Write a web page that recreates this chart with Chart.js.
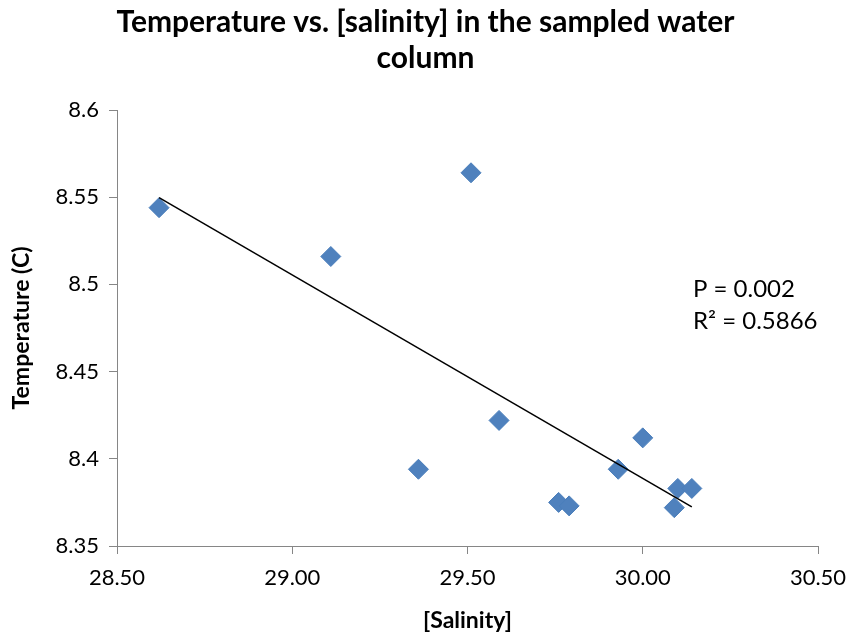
<!DOCTYPE html>
<html>
<head>
<meta charset="utf-8">
<script src="https://cdn.jsdelivr.net/npm/chart.js@4.4.0/dist/chart.umd.min.js"></script>
<style>
  html, body { margin: 0; padding: 0; background: #fff; }
  #wrap { width: 851px; height: 636px; }
</style>
</head>
<body>
<div id="wrap"><canvas id="chart" width="851" height="636"></canvas></div>
<script>
const salinity = [28.62, 29.11, 29.51, 29.36, 29.59, 29.76, 29.79, 29.93, 30.00, 30.10, 30.14, 30.09];
const temperature = [8.544, 8.516, 8.564, 8.394, 8.422, 8.375, 8.373, 8.394, 8.412, 8.383, 8.383, 8.372];
const xTickLabels = ['28.50', '29.00', '29.50', '30.00', '30.50'];
const yTickLabels = ['8.35', '8.4', '8.45', '8.5', '8.55', '8.6'];
const statsText = ['P = 0.002', 'R\u00B2 = 0.5866'];

const FONT = "Lato, 'Noto Sans', sans-serif";
const AXIS = '#868686';

// least squares fit for the trendline
const n = salinity.length;
const mx = salinity.reduce((a, b) => a + b, 0) / n;
const my = temperature.reduce((a, b) => a + b, 0) / n;
let sxy = 0, sxx = 0;
for (let i = 0; i < n; i++) {
    sxy += (salinity[i] - mx) * (temperature[i] - my);
    sxx += (salinity[i] - mx) ** 2;
}
const slope = sxy / sxx;
const xMin = Math.min(...salinity);
const xMax = Math.max(...salinity);
const trend = [xMin, xMax].map(x => ({ x: x, y: my + slope * (x - mx) }));

const points = salinity.map((x, i) => ({ x: x, y: temperature[i] }));

const statsLabel = {
    id: 'statsLabel',
    afterDraw(chart) {
        const ctx = chart.ctx;
        const area = chart.chartArea;
        ctx.save();
        ctx.fillStyle = '#000';
        ctx.font = '24px ' + FONT;
        ctx.textBaseline = 'middle';
        ctx.fillText(statsText[0], area.left + 576, 289);
        ctx.fillText(statsText[1], area.left + 576, 321);
        ctx.restore();
    }
};

new Chart(document.getElementById('chart').getContext('2d'), {
    type: 'scatter',
    data: {
        datasets: [{
            label: 'Trend',
            data: trend,
            showLine: true,
            borderColor: '#000',
            borderWidth: 1.5,
            pointRadius: 0,
            order: 0
        }, {
            label: 'Temperature',
            data: points,
            pointStyle: 'rectRot',
            pointRadius: 10,
            backgroundColor: '#4F81BD',
            borderColor: '#4A7EBB',
            borderWidth: 1,
            order: 1
        }]
    },
    options: {
        responsive: false,
        animation: false,
        layout: { padding: 0 },
        plugins: {
            legend: { display: false },
            tooltip: { enabled: false },
            title: {
                display: true,
                text: ['Temperature vs. [salinity] in the sampled water', 'column'],
                color: '#000',
                font: { family: FONT, size: 30, weight: 'bold', lineHeight: 1.2 },
                padding: { top: 4, bottom: 34 }
            }
        },
        scales: {
            x: {
                type: 'linear',
                min: 28.5,
                max: 30.5,
                afterFit(scale) {
                    scale.height = 90;
                    scale.paddingLeft = 0;
                    scale.paddingRight = 33;
                },
                border: { color: AXIS, width: 1 },
                grid: { drawOnChartArea: false, color: AXIS, tickLength: 8 },
                ticks: {
                    stepSize: 0.5,
                    color: '#000',
                    padding: 11,
                    font: { family: FONT, size: 22 },
                    callback: (v, i) => xTickLabels[i]
                },
                title: {
                    display: true,
                    text: '[Salinity]',
                    color: '#000',
                    font: { family: FONT, size: 23, weight: 'bold' },
                    padding: { top: 0, bottom: 2 }
                }
            },
            y: {
                type: 'linear',
                min: 8.35,
                max: 8.6,
                afterFit(scale) {
                    scale.width = 117;
                    scale.paddingTop = 0;
                    scale.paddingBottom = 0;
                },
                border: { color: AXIS, width: 1 },
                grid: { drawOnChartArea: false, color: AXIS, tickLength: 8 },
                ticks: {
                    stepSize: 0.05,
                    color: '#000',
                    padding: 10,
                    font: { family: FONT, size: 22 },
                    callback: (v, i) => yTickLabels[i]
                },
                title: {
                    display: true,
                    text: 'Temperature (C)',
                    color: '#000',
                    font: { family: FONT, size: 23, weight: 'bold' },
                    padding: { top: 8, bottom: 0 }
                }
            }
        }
    },
    plugins: [statsLabel]
});
</script>
</body>
</html>
